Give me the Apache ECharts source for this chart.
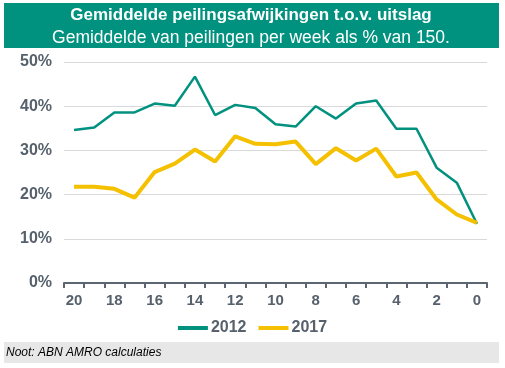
<!DOCTYPE html>
<html><head><meta charset="utf-8">
<script src="https://cdn.jsdelivr.net/npm/echarts@6/dist/echarts.min.js"></script>
<style>html,body{margin:0;padding:0;background:#fff}#c{width:505px;height:368px}</style>
</head><body><div id="c"></div>
<script>
const weeks = ['20','19','18','17','16','15','14','13','12','11','10','9','8','7','6','5','4','3','2','1','0'];
const s2012 = [34.6,35.2,38.6,38.6,40.6,40.1,46.7,38.0,40.3,39.6,35.9,35.4,40.0,37.2,40.6,41.3,34.9,34.9,26.1,22.7,13.4];
const s2017 = [21.8,21.8,21.3,19.3,25.1,27.0,30.2,27.5,33.2,31.5,31.4,32.0,26.9,30.5,27.7,30.4,24.1,25.0,18.9,15.5,13.6];
const yTicks = [0,10,20,30,40,50];
const titleMain = 'Gemiddelde peilingsafwijkingen t.o.v. uitslag';
const titleSub = 'Gemiddelde van peilingen per week als % van 150.';
const note = 'Noot: ABN AMRO calculaties';

const TEAL = '#00917f', YEL = '#f4c000', TXT = '#56616c', FONT = 'Liberation Sans, Arial, sans-serif';
const chart = echarts.init(document.getElementById('c'), null, {renderer: 'canvas'});
chart.setOption({
  animation: false,
  grid: {left: 64, right: 18, top: 62, bottom: 85, containLabel: false},
  xAxis: {
    type: 'category', data: weeks, boundaryGap: true,
    axisLine: {lineStyle: {color: '#5b6670', width: 2}},
    axisTick: {show: true, interval: 0, length: 5, lineStyle: {color: '#5b6670', width: 2}},
    axisLabel: {interval: 1, color: TXT, fontFamily: FONT, fontWeight: 'bold', fontSize: 15, margin: 10}
  },
  yAxis: {
    type: 'value', min: 0, max: 50, interval: 10,
    axisLine: {show: false}, axisTick: {show: false},
    splitLine: {lineStyle: {color: '#d9d9d9', width: 1}},
    axisLabel: {formatter: v => yTicks.includes(v) ? v + '%' : '', color: TXT, fontFamily: FONT, fontWeight: 'bold', fontSize: 16, margin: 12}
  },
  legend: {
    bottom: 27, left: 'center', itemWidth: 30, itemHeight: 4, itemGap: 12,
    icon: 'rect',
    textStyle: {color: TXT, fontFamily: FONT, fontWeight: 'bold', fontSize: 16, padding: [0,0,0,-2]},
    data: ['2012', '2017']
  },
  series: [
    {name: '2012', type: 'line', data: s2012, symbol: 'none', lineStyle: {color: TEAL, width: 2.5}, itemStyle: {color: TEAL}},
    {name: '2017', type: 'line', data: s2017, symbol: 'none', lineStyle: {color: YEL, width: 4}, itemStyle: {color: YEL}}
  ],
  graphic: [
    {type: 'rect', left: 4, top: 3, shape: {width: 495, height: 45}, style: {fill: TEAL}},
    {type: 'text', x: 251, y: 15, style: {text: titleMain, fill: '#fff', font: 'bold 17px ' + FONT, align: 'center', verticalAlign: 'middle'}},
    {type: 'text', x: 251, y: 38, style: {text: titleSub, fill: '#fff', font: '17.5px ' + FONT, align: 'center', verticalAlign: 'middle'}},
    {type: 'rect', left: 4, top: 342, shape: {width: 495, height: 21}, style: {fill: '#e7e7e7'}},
    {type: 'text', x: 6, y: 353, style: {text: note, fill: '#000', font: 'italic 12px ' + FONT, align: 'left', verticalAlign: 'middle'}}
  ]
});
</script></body></html>
